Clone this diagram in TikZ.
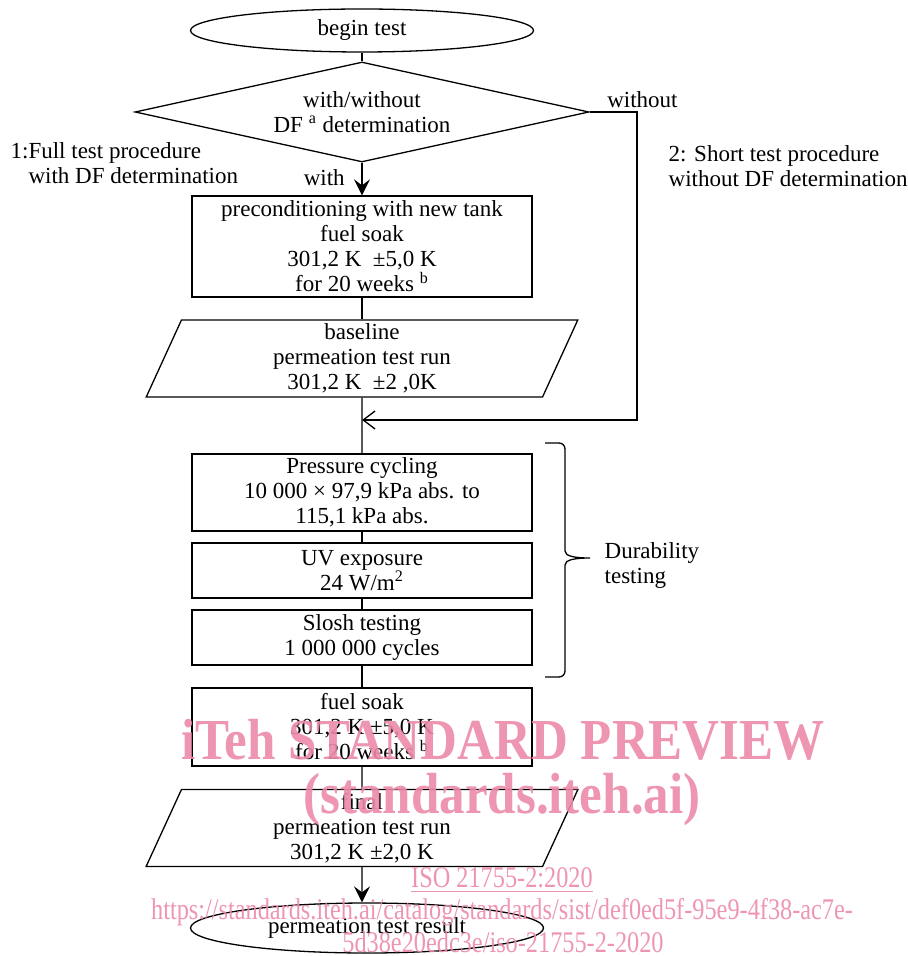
\documentclass[tikz,border=0pt]{standalone}
\usepackage{fontspec}
\setmainfont{Liberation Serif}
\usepackage{graphicx}
\usetikzlibrary{shapes.geometric,arrows.meta}
\definecolor{wmpink}{RGB}{236,138,168}
\tikzset{
  every node/.style={font=\fontsize{11.5}{12.5}\selectfont},
  proc/.style={draw, rectangle, align=center, minimum width=170pt, inner sep=0pt},
  term/.style={draw, ellipse, align=center, minimum width=171.5pt, minimum height=21.5pt, inner sep=0pt},
  choice/.style={draw, diamond, align=center, minimum width=227pt, minimum height=50pt, inner sep=0pt, shape aspect=4.5},
  io/.style={draw, trapezium, trapezium left angle=76, trapezium right angle=104, trapezium stretches=true, align=center, minimum width=216pt, minimum height=38.5pt, inner sep=0pt},
  flow/.style={-{Stealth[length=8pt,width=8pt,inset=3pt]}},
  back/.style={-{Straight Barb[length=6pt,width=9pt]}},
  wm/.style={text=wmpink, font=\fontsize{29}{30}\selectfont\bfseries},
  wmurl/.style={text=wmpink, font=\fontsize{15}{16}\selectfont},
}
\begin{document}
\begin{tikzpicture}[x=0.5pt, y=-0.5pt, line width=0.65pt]
\useasboundingbox (0,0) rectangle (907,956);
% main chain
\node[term] (begin) at (362,30.5) {begin test};
\node[choice] (dfchoice) at (362,112) {with/without\\DF \textsuperscript{a} determination};
\node[proc, minimum height=50.5pt] (precon) at (362,246.5) {preconditioning with new tank\\fuel soak\\301,2 K\ \ ±5,0 K\\for 20 weeks \textsuperscript{b}};
\node[io] (baseline) at (362,358.5) {baseline\\permeation test run\\301,2 K\ \ ±2 ,0K};
\node[proc, minimum height=38.5pt] (pressure) at (362,492.5) {Pressure cycling\\10 000 × 97,9 kPa abs. to\\115,1 kPa abs.};
\node[proc, minimum height=27.5pt] (uv) at (362,570.5) {UV exposure\\24 W/m\textsuperscript{2}};
\node[proc, minimum height=27.5pt] (slosh) at (362,637.5) {Slosh testing\\1 000 000 cycles};
\node[proc, minimum height=39pt] (soak) at (362,727) {fuel soak\\301,2 K ±5,0 K\\for 20 weeks \textsuperscript{b}};
\node[io] (final) at (362,828) {final\\permeation test run\\301,2 K ±2,0 K};
\node[term, minimum width=176.5pt, minimum height=25pt] (result) at (367,928) {permeation test result};
% labels
\node[anchor=east] (withlbl) at (352,178) {with};
\node[anchor=west] (withoutlbl) at (600,100) {without};
\node[anchor=west, inner sep=0pt] (fullproc) at (10,166) {\begin{tabular}{@{}l@{}l@{}}1:&Full test procedure\\&with DF determination\end{tabular}};
\node[anchor=west, align=left, inner sep=0pt] (shortproc) at (668,166) {2: Short test procedure\\without DF determination};
\node[anchor=west, align=left, inner sep=0pt] (durab) at (604,565) {Durability\\testing};
\coordinate (wo) at (637,112);
\coordinate (join) at (362,420);
\coordinate (btop) at (545,443);
\coordinate (bbot) at (545,677);
\coordinate (btip) at (590,558);
% connectors
\draw (begin) -- (dfchoice);
\draw[flow] (dfchoice) -- (precon);
\draw (precon) -- (baseline);
\draw (baseline) -- (pressure);
\draw[back] (dfchoice.east) -- (wo) |- (join);
\draw (pressure) -- (uv);
\draw (uv) -- (slosh);
\draw (slosh) -- (soak);
\draw (soak) -- (final);
\draw[flow] (final) -- (final.south |- result.north);
% brace
\draw[rounded corners=3pt] (btop) -- (565,443) -- (565,551);
\draw (565,551) .. controls (565,556) and (574,558) .. (btip) .. controls (574,558) and (565,560) .. (565,565);
\draw[rounded corners=3pt] (565,565) -- (565,677) -- (bbot);
% watermark
\begin{scope}[opacity=0.9]
\node[wm] (wmtitle) at (503,740) {\scalebox{0.88}[1]{iTeh STANDARD PREVIEW}};
\node[wm] (wmsite) at (502,800) {\scalebox{0.88}[1]{(standards.iteh.ai)}};
\node[wmurl] (wmiso) at (502,880) {\scalebox{0.81}[1]{\underline{ISO 21755-2:2020}}};
\node[wmurl] (wmurl1) at (502,912) {\scalebox{0.81}[1]{https://standards.iteh.ai/catalog/standards/sist/def0ed5f-95e9-4f38-ac7e-}};
\node[wmurl] (wmurl2) at (503,942) {\scalebox{0.81}[1]{5d38e20edc3e/iso-21755-2-2020}};
\end{scope}
\end{tikzpicture}
\end{document}
